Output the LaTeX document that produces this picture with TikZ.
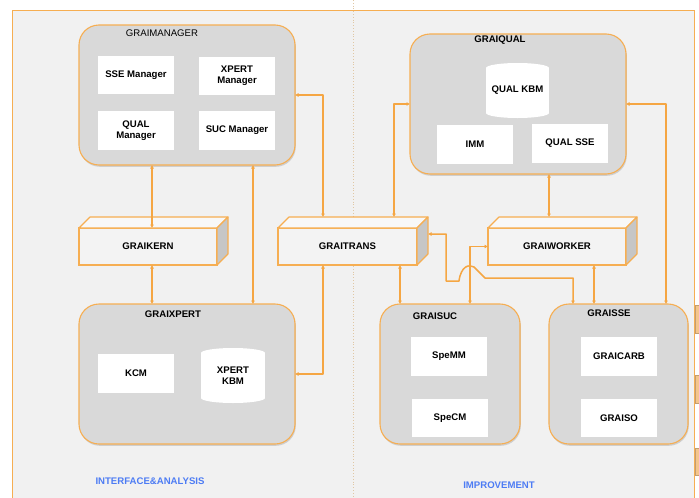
\documentclass[tikz,border=0pt]{standalone}
\usepackage{fontspec}
\setmainfont{Liberation Sans}
\usetikzlibrary{shadows,arrows.meta,calc}

\definecolor{frameor}{HTML}{F6AE52}
\definecolor{lineor}{HTML}{F5A643}
\definecolor{bggray}{HTML}{F1F1F1}
\definecolor{boxgray}{HTML}{D9D9D9}
\definecolor{facegray}{HTML}{F3F3F3}
\definecolor{topgray}{HTML}{F8F8F8}
\definecolor{sidegray}{HTML}{C6C6C6}
\definecolor{labelblue}{HTML}{4D7CF4}
\definecolor{divtan}{HTML}{E0C7A4}
\definecolor{tabor}{HTML}{F4C58C}

\newcommand\labelsize{\fontsize{9.6}{11}\selectfont}

\tikzset{
  module/.style={draw=frameor, line width=1.1pt, fill=boxgray, rounded corners=20pt,
    inner sep=0pt, outer sep=0pt,
    drop shadow={shadow xshift=0.8pt, shadow yshift=-1.8pt, opacity=0.3}},
  part/.style={fill=white, inner sep=1pt, outer sep=0pt, align=center,
    font=\labelsize\bfseries},
  title/.style={inner sep=0pt, font=\labelsize\bfseries},
  face/.style={draw=frameor, line width=1.1pt, fill=facegray, minimum height=37pt,
    inner sep=0pt, outer sep=0pt, font=\labelsize\bfseries},
  topface/.style={draw=frameor, line width=1.1pt, fill=topgray, line join=round},
  sideface/.style={draw=frameor, line width=1.1pt, fill=sidegray, line join=round},
  conn/.style={draw=lineor, line width=1.5pt, line join=round,
    {Latex[length=3.5pt,width=4pt]}-{Latex[length=3.5pt,width=4pt]}},
  area/.style={inner sep=0pt, text=labelblue, font=\labelsize\bfseries},
}

% a box drawn in perspective: front face node #1 at #2, width #3, text #4
\newcommand\solidbox[4]{%
  \node[face, minimum width=#3] (#1) at (#2) {#4};
  \filldraw[topface] (#1.north west) -- ++(11,-11)
    -- ($(#1.north east)+(11,-11)$) -- (#1.north east) -- cycle;
  \filldraw[sideface] (#1.north east) -- ++(11,-11)
    -- ($(#1.south east)+(11,-11)$) -- (#1.south east) -- cycle;
}

% a storage drum: left, top, right, bottom, name, text
\newcommand\drum[6]{%
  \fill[white] ({(#1+#3)/2},#2+5) ellipse [x radius={(#3-#1)/2}, y radius=5];
  \fill[white] (#1,#2+5) rectangle (#3,#4-5);
  \fill[white] ({(#1+#3)/2},#4-5) ellipse [x radius={(#3-#1)/2}, y radius=5];
  \node[part, fill=none] (#5) at ({(#1+#3)/2},{(#2+#4)/2}) {#6};
}

\begin{document}
\begin{tikzpicture}[x=1pt, y=-1pt]
\clip (0,0) rectangle (699,498);
\fill[white] (0,0) rectangle (699,498);

% outer frame and the side tabs beyond it
\filldraw[draw=frameor, line width=1pt, fill=bggray] (12,10) rectangle (694,510);
\foreach \ya/\yb in {305/333, 375/403, 448/475}
  \filldraw[draw=tabor!80!black, fill=tabor, line width=0.5pt] (695.5,\ya) rectangle (702,\yb);

% divider between the two areas
\draw[divtan, line width=0.8pt, dotted] (353,0) -- (353,498);

% ---------- GRAIMANAGER ----------
\node[module, minimum width=216pt, minimum height=140pt] (mgr) at (187,95) {};
\node[inner sep=0pt, font=\labelsize] (mgrt) at (162,33) {GRAIMANAGER};
\node[part, minimum width=76pt, minimum height=38pt] (ssem) at (136,75) {SSE Manager};
\node[part, minimum width=76pt, minimum height=38pt] (xpm) at (237,76) {XPERT\\Manager};
\node[part, minimum width=76pt, minimum height=39pt] (qualm) at (136,130.5) {QUAL\\Manager};
\node[part, minimum width=76pt, minimum height=39pt] (sucm) at (237,130.5) {SUC Manager};

% ---------- GRAIQUAL ----------
\node[module, minimum width=216pt, minimum height=140pt] (qual) at (518,104) {};
\node[title] (qualt) at (500,40) {GRAIQUAL};
\drum{486}{63}{549}{118}{qkbm}{QUAL KBM}
\node[part, minimum width=76pt, minimum height=39pt] (imm) at (475,144.5) {IMM};
\node[part, minimum width=76pt, minimum height=39pt] (qsse) at (570,143.5) {QUAL SSE};

% ---------- GRAIXPERT ----------
\node[module, minimum width=216pt, minimum height=140pt] (xpert) at (187,374) {};
\node[title] (xpertt) at (173,314) {GRAIXPERT};
\node[part, minimum width=76pt, minimum height=39pt] (kcm) at (136,373.5) {KCM};
\drum{201}{348}{265}{403}{xkbm}{XPERT\\KBM}

% ---------- GRAISUC ----------
\node[module, minimum width=140pt, minimum height=140pt] (suc) at (450,374) {};
\node[title] (suct) at (435,316) {GRAISUC};
\node[part, minimum width=76pt, minimum height=39pt] (spemm) at (449,356.5) {SpeMM};
\node[part, minimum width=76pt, minimum height=38pt] (specm) at (450,418) {SpeCM};

% ---------- GRAISSE ----------
\node[module, minimum width=139pt, minimum height=140pt] (sse) at (618.5,374) {};
\node[title] (sset) at (609,313) {GRAISSE};
\node[part, minimum width=76pt, minimum height=39pt] (carb) at (619,356.5) {GRAICARB};
\node[part, minimum width=76pt, minimum height=38pt] (iso) at (619,418) {GRAISO};

% ---------- middle layer ----------
\solidbox{kern}{148,246.5}{138pt}{GRAIKERN}
\solidbox{trans}{347.5,246.5}{139pt}{GRAITRANS}
\solidbox{worker}{557,246.5}{138pt}{GRAIWORKER}

% ---------- connectors ----------
\coordinate (kernTop) at ($(kern.north)+(4,0)$);
\coordinate (kernBot) at ($(kern.south)+(4,0)$);
\draw[conn] (kernTop |- mgr.south) -- (kernTop);
\draw[conn] (kernBot) -- (kernBot |- xpert.north);
\draw[conn] ($(mgr.south)+(66,0)$) -- ($(xpert.north)+(66,0)$);

\coordinate (transL) at ($(trans.north)+(-24.5,-11)$);
\draw[conn] (mgr.east) -| (transL);
\draw[conn] ($(trans.south)+(-24.5,0)$) |- (xpert.east);

\coordinate (transR) at ($(trans.north)+(46.5,-11)$);
\draw[conn] (qual.west) -| (transR);
\draw[conn] ($(trans.south)+(52.5,0)$) -- ($(suc.north)+(-50,0)$);

\draw[conn] ($(qual.south)+(31,0)$) -- ($(worker.north)+(-8,-11)$);
\draw[conn] (qual.east) -| ($(sse.north)+(47.5,0)$);

\draw[conn] (worker.west) -| ($(suc.north)+(20,0)$);
\draw[conn] ($(worker.south)+(37,0)$) -- ($(sse.north)+(-24.5,0)$);

% side link from GRAITRANS to GRAISSE, hopping over the GRAISUC line
\coordinate (transSide) at ($(trans.east)+(11,-12.5)$);
\coordinate (hopA) at (459,281);
\coordinate (hopB) at (485,278);
\coordinate (sseIn) at ($(sse.north)+(-45.5,0)$);
\draw[conn] (transSide) -- (446,234) -- (446,281) -- (hopA)
  .. controls (461,266) and (469,264) .. (474,267) -- (hopB) -- (sseIn |- hopB) -- (sseIn);

% ---------- area labels ----------
\node[area] (ia) at (150,481) {INTERFACE\&ANALYSIS};
\node[area] (imp) at (499,485) {IMPROVEMENT};
\end{tikzpicture}
\end{document}
